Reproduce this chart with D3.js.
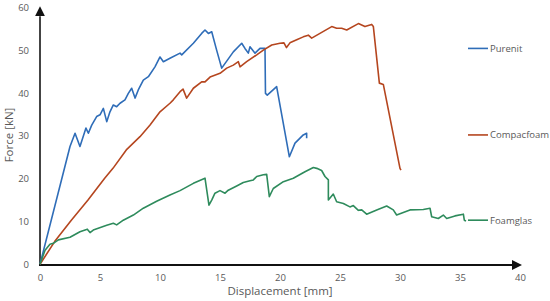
<!DOCTYPE html>
<html><head><meta charset="utf-8">
<script src="https://cdn.jsdelivr.net/npm/d3@7"></script>
<style>body{margin:0;background:#fff}svg{display:block}text{font-family:"Open Sans","Liberation Sans",sans-serif;fill:#595959}</style>
</head><body><svg id="c" width="550" height="301"></svg>
<script>
const xTicks=[0,5,10,15,20,25,30,35,40];
const yTicks=[0,10,20,30,40,50,60];
const seriesNames=["Purenit","Compacfoam","Foamglas"];
const purenit=[[0,0],[2.5,27.5],[2.92,30.6],[3.33,27.5],[3.83,31.8],[4.03,30.6],[4.31,32.5],[4.72,34.5],[5,34.9],[5.28,36.4],[5.56,33.3],[5.83,35.6],[6.11,37.2],[6.39,36.8],[6.67,37.6],[7.08,38.4],[7.36,39.9],[7.64,41.1],[7.92,38.8],[8.19,40.7],[8.61,43.0],[9.03,43.8],[9.58,46.1],[10,48.4],[10.28,47.3],[10.83,48.1],[11.67,49.3],[11.81,48.9],[12.78,51.6],[13.47,53.9],[13.75,54.7],[14.03,53.9],[14.31,54.3],[14.72,50.0],[15.14,45.8],[16.11,49.6],[16.81,51.6],[17.08,50.4],[17.36,49.3],[17.5,50.8],[17.92,49.3],[18.33,50.4],[18.75,50.4],[18.79,39.9],[18.94,39.5],[19.72,41.5],[20.78,25.1],[21.25,28.3],[21.94,30.2],[22.22,30.6],[22.22,29.4]];
const compacfoam=[[0,0],[1.22,5.3],[2.61,10.3],[4,15],[5.39,20.1],[6.08,22.4],[7.19,26.7],[8.33,29.8],[9.17,32.5],[10,35.6],[10.83,37.6],[11.11,38.4],[11.67,40.3],[11.92,40.9],[12.22,38.8],[12.78,41.1],[13.47,42.6],[13.75,42.6],[14.17,43.7],[15,44.6],[15.56,45.8],[16.11,46.5],[16.53,47.3],[16.67,46.1],[17.22,47.3],[18.06,48.9],[18.61,50.0],[19.31,51.2],[20,51.6],[20.33,51.7],[20.54,50.6],[20.83,51.7],[21.39,52.4],[21.94,53.1],[22.36,53.5],[22.64,52.8],[23.33,53.9],[24.31,55.5],[24.72,55.1],[25.14,55.1],[25.56,54.7],[26.53,56.2],[27.08,55.5],[27.64,56.0],[27.78,55.5],[28.28,42.3],[28.61,42.0],[30,22.4],[30.08,22.0]];
const foamglas=[[0,0],[0.42,3.3],[0.83,4.7],[1.11,4.9],[1.53,5.7],[2.5,6.3],[3.33,7.6],[3.94,8.2],[4.17,7.4],[4.44,8.0],[5.56,9.1],[6.11,9.6],[6.39,9.2],[6.94,10.3],[7.78,11.5],[8.61,13.1],[9.72,14.7],[10.83,16.2],[11.67,17.2],[12.78,18.9],[13.75,20.1],[14.08,13.8],[14.31,15.0],[14.58,16.6],[15,17.2],[15.42,16.6],[15.69,17.3],[16.39,18.3],[16.94,19.1],[17.5,19.5],[17.78,19.7],[18.06,20.5],[18.61,20.9],[18.89,21.0],[19.11,15.8],[19.44,17.7],[20.28,19.3],[21.11,20.1],[22.08,21.6],[22.78,22.6],[23.06,22.4],[23.47,21.9],[23.75,20.5],[24.03,19.7],[24.03,15.0],[24.44,16.4],[24.72,14.6],[25.28,14.2],[25.83,13.4],[26.11,13.7],[26.53,12.6],[26.81,12.7],[27.22,11.7],[28.06,12.7],[28.89,13.6],[29.44,12.7],[29.72,11.5],[30.83,12.7],[31.94,12.8],[32.5,13.1],[32.64,11.1],[33.19,10.7],[33.61,11.5],[33.89,10.7],[34.58,11.3],[35.28,11.7],[35.36,10.3],[35.5,10.1]];
const seriesData=[purenit,compacfoam,foamglas];
const colors=["#2f6db8","#b5461f","#2e8b5c"];
const legendY=[50.4,30.2,10.3];

const svg=d3.select("#c");
const x=d3.scaleLinear().domain([0,40]).range([40,520]);
const y=d3.scaleLinear().domain([0,60]).range([264.3,7.3]);

const defs=svg.append("defs");
defs.append("marker").attr("id","ah").attr("viewBox","0 0 10 10").attr("refX",0).attr("refY",5)
  .attr("markerWidth",5).attr("markerHeight",5).attr("markerUnits","strokeWidth").attr("orient","auto")
  .append("path").attr("d","M0,0L10,5L0,10Z").attr("fill","#111");

// axes with labels only
const gx=svg.append("g").attr("transform","translate(0,265)")
  .call(d3.axisBottom(x).tickValues(xTicks).tickSize(0).tickPadding(9));
gx.select(".domain").remove();
gx.selectAll("text").attr("font-size","9.5px").attr("fill","#595959").style("font-family",'"Open Sans","Liberation Sans",sans-serif');
const gy=svg.append("g").attr("transform","translate(40,0)")
  .call(d3.axisLeft(y).tickValues(yTicks).tickSize(0).tickPadding(11));
gy.select(".domain").remove();
gy.selectAll("text").attr("font-size","9.5px").attr("fill","#595959").style("font-family",'"Open Sans","Liberation Sans",sans-serif');

// axis lines with arrows
svg.append("line").attr("x1",x(0)).attr("y1",y(0)+1).attr("x2",x(0)).attr("y2",y(60)+9)
  .attr("stroke","#444").attr("stroke-width",2).attr("marker-end","url(#ah)");
svg.append("line").attr("x1",x(0)-1).attr("y1",265).attr("x2",x(40)-8).attr("y2",265)
  .attr("stroke","#111").attr("stroke-width",2).attr("marker-end","url(#ah)");

const line=d3.line().x(d=>x(d[0])).y(d=>y(d[1]));
seriesData.forEach((s,i)=>{
  svg.append("path").datum(s).attr("d",line).attr("fill","none")
    .attr("stroke",colors[i]).attr("stroke-width",1.6).attr("stroke-linejoin","round");
});

// legend
seriesNames.forEach((n,i)=>{
  const ly=y(legendY[i]);
  svg.append("line").attr("x1",468).attr("x2",488).attr("y1",ly).attr("y2",ly)
    .attr("stroke",colors[i]).attr("stroke-width",1.6);
  svg.append("text").attr("x",490).attr("y",ly).attr("dy","0.35em").attr("font-size","9.5px").text(n);
});

svg.append("text").attr("x",280).attr("y",295).attr("text-anchor","middle").attr("font-size","11.5px").text("Displacement [mm]");
svg.append("text").attr("transform","translate(13,135) rotate(-90)").attr("text-anchor","middle").attr("font-size","11.5px").text("Force [kN]");
</script></body></html>
